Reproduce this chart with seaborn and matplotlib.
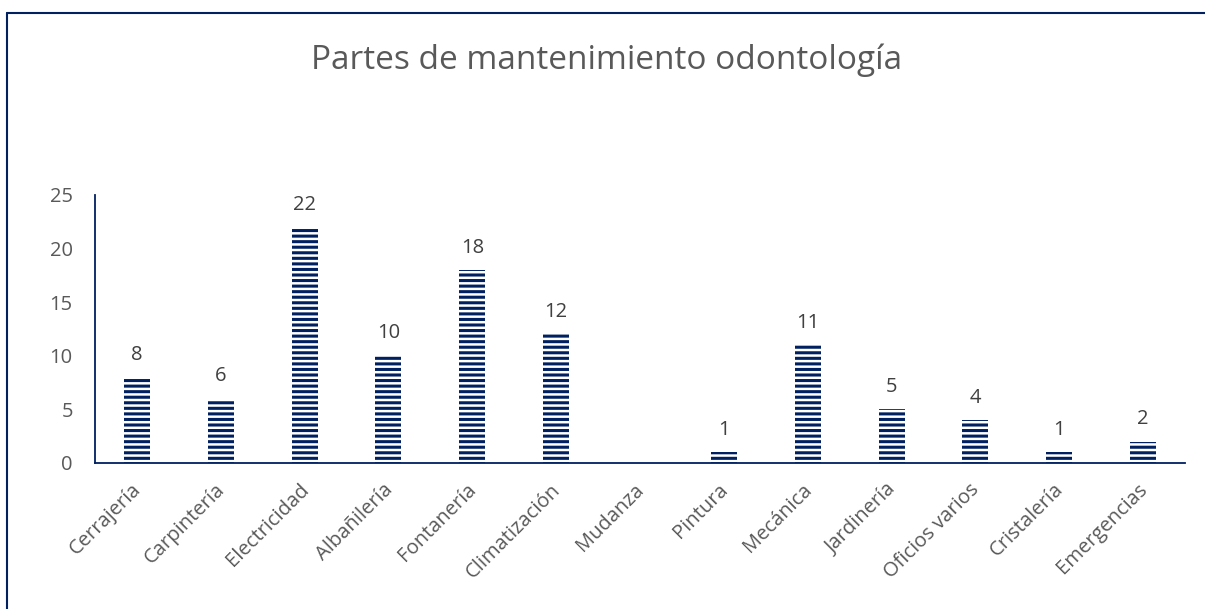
import matplotlib
matplotlib.use("Agg")
import matplotlib.pyplot as plt
import matplotlib.transforms as mtransforms
import seaborn as sns
import pandas as pd
from matplotlib.lines import Line2D

# ── Data ──────────────────────────────────────────────────────────────────────
CATEGORIES = ["Cerrajería", "Carpintería", "Electricidad", "Albañilería", "Fontanería",
              "Climatización", "Mudanza", "Pintura", "Mecánica", "Jardinería",
              "Oficios varios", "Cristalería", "Emergencias"]
VALUES = [8, 6, 22, 10, 18, 12, 0, 1, 11, 5, 4, 1, 2]
Y_TICKS = [0, 5, 10, 15, 20, 25]
TITLE = "Partes de mantenimiento odontología"

NAVY = "#002060"
GREY = "#595959"

sns.set_theme(style="white")
plt.rcParams["font.family"] = ["Open Sans", "DejaVu Sans"]
plt.rcParams["hatch.linewidth"] = 2.2

df = pd.DataFrame({"cat": CATEGORIES, "val": VALUES})

fig = plt.figure(figsize=(12.05, 6.09), dpi=100)
ax = fig.add_axes([95 / 1205, 1 - 463 / 609, 1090 / 1205, 268 / 609])

sns.barplot(data=df, x="cat", y="val", color="white", width=0.31,
            edgecolor=NAVY, linewidth=0, saturation=1, ax=ax)
for p in ax.patches:
    p.set_hatch("---")
    p.set_edgecolor(NAVY)
    p.set_linewidth(0)

for i, v in enumerate(VALUES):
    if v == 0:
        continue
    ax.annotate(str(v), (i, v), xytext=(0, 9), textcoords="offset points",
                ha="center", va="bottom", fontsize=14.5, color="#404040")

ax.set_xlim(-0.5, len(CATEGORIES) - 0.5)
ax.set_ylim(0, 25)
ax.set_yticks(Y_TICKS)
ax.set_xlabel("")
ax.set_ylabel("")
ax.tick_params(axis="both", length=0, labelsize=14.5, labelcolor=GREY)
ax.tick_params(axis="y", pad=16)
ax.tick_params(axis="x", pad=12)
shift = mtransforms.ScaledTranslation(-6 / 100, 0, fig.dpi_scale_trans)
for lbl in ax.get_xticklabels():
    lbl.set_rotation(45)
    lbl.set_ha("right")
    lbl.set_rotation_mode("anchor")
    lbl.set_transform(lbl.get_transform() + shift)

for side in ("top", "right"):
    ax.spines[side].set_visible(False)
for side in ("left", "bottom"):
    ax.spines[side].set_color(NAVY)
    ax.spines[side].set_linewidth(1.3)

fig.text(0.503, 1 - 60 / 609, TITLE, ha="center", va="center",
         fontsize=24, color=GREY)

# chart frame (top and left edges visible)
fig.add_artist(Line2D([7 / 1205, 7 / 1205], [0, 1 - 13 / 609],
                      transform=fig.transFigure, color=NAVY, lw=1.5))
fig.add_artist(Line2D([7 / 1205, 1], [1 - 13 / 609, 1 - 13 / 609],
                      transform=fig.transFigure, color=NAVY, lw=1.5))

fig.savefig("out.png", dpi=100)
